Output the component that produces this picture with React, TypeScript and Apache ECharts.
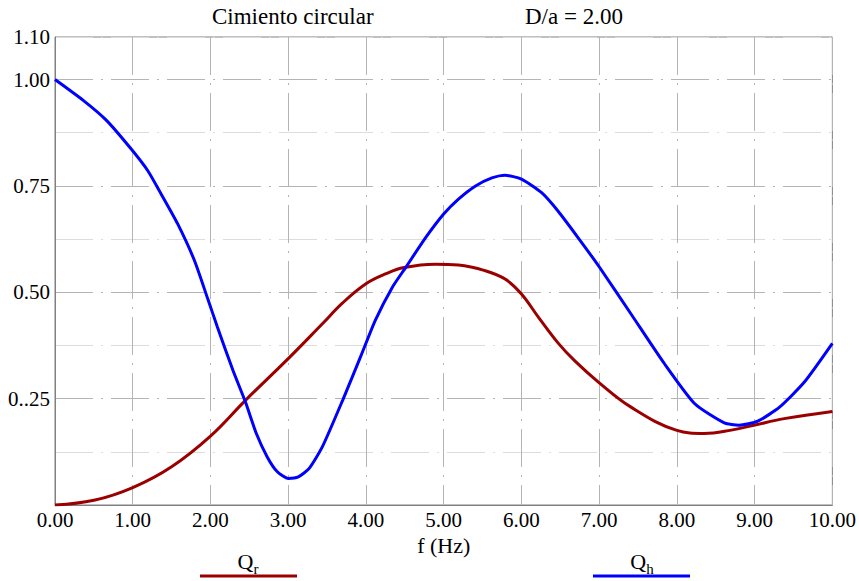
import React, { useEffect, useRef } from "react";
import * as echarts from "echarts";

const titleLeft = "Cimiento circular";
const titleRight = "D/a = 2.00";
const xAxisName = "f (Hz)";
const yLabelValues = [0.25, 0.5, 0.75, 1.0, 1.1];
const yLabelTexts = ["0..25", "0.50", "0.75", "1.00", "1.10"];

const qhFreq = [0, 0.363, 0.662, 0.983, 1.196, 1.368, 1.58, 1.795, 1.966, 2.09, 2.29, 2.45, 2.59, 2.73, 2.86, 3.0, 3.13, 3.27, 3.44, 3.7, 3.93, 4.12, 4.34, 4.51, 4.77, 5.0, 5.19, 5.41, 5.62, 5.79, 6.0, 6.26, 6.47, 6.73, 7.0, 7.41, 7.84, 8.23, 8.61, 8.8, 9.04, 9.32, 9.64, 10.0];
const qhValues = [1.0, 0.951, 0.904, 0.836, 0.785, 0.73, 0.66, 0.574, 0.484, 0.418, 0.316, 0.242, 0.168, 0.113, 0.078, 0.0625, 0.066, 0.086, 0.137, 0.246, 0.348, 0.434, 0.512, 0.558, 0.629, 0.684, 0.719, 0.75, 0.769, 0.775, 0.766, 0.734, 0.691, 0.628, 0.56, 0.449, 0.332, 0.238, 0.193, 0.1875, 0.197, 0.23, 0.289, 0.38];

const qrFreq = [0, 0.5, 1.0, 1.5, 2.0, 2.45, 3.0, 3.44, 3.7, 4.0, 4.25, 4.49, 4.89, 5.19, 5.53, 5.79, 6.0, 6.22, 6.47, 6.69, 6.99, 7.41, 7.99, 8.35, 8.7, 8.99, 9.38, 10.0];
const qrValues = [0.0, 0.011, 0.041, 0.09, 0.162, 0.246, 0.344, 0.426, 0.475, 0.52, 0.543, 0.558, 0.566, 0.564, 0.551, 0.531, 0.496, 0.441, 0.381, 0.338, 0.289, 0.23, 0.176, 0.168, 0.176, 0.1875, 0.203, 0.22];

const FONT = "'Liberation Serif', 'DejaVu Serif', serif";
const BLUE = "#0000ff";
const RED = "#9b0000";

export default function App() {
  const ref = useRef<HTMLDivElement>(null);
  useEffect(() => {
    if (!ref.current) return;
    const chart = echarts.init(ref.current, null, { renderer: "svg" });
    const gridDash = [38, 8, 2, 8];
    const richLegend = {
      q: { fontFamily: FONT, fontSize: 22, fill: "#000", color: "#000", verticalAlign: "bottom", padding: [0, 0, 4, 0] },
      s: { fontFamily: FONT, fontSize: 15, fill: "#000", color: "#000", verticalAlign: "bottom" },
    };
    chart.setOption({
      animation: false,
      backgroundColor: "#ffffff",
      grid: {
        left: 55,
        right: 24,
        top: 37,
        bottom: 76,
        show: true,
        borderColor: "#808080",
        borderWidth: 1,
        backgroundColor: "transparent",
      },
      xAxis: {
        type: "value",
        min: 0,
        max: 10,
        interval: 1,
        name: xAxisName,
        nameLocation: "middle",
        nameGap: 25,
        nameTextStyle: { fontFamily: FONT, fontSize: 22, color: "#000" },
        axisLine: { lineStyle: { color: "#808080", width: 1 } },
        axisTick: { show: false },
        axisLabel: {
          fontFamily: FONT,
          fontSize: 21,
          color: "#000",
          margin: 4,
          formatter: (v: number) => v.toFixed(2),
        },
        splitLine: {
          show: true,
          lineStyle: { color: "#b4b4b4", width: 1, type: gridDash },
        },
      },
      yAxis: [
        {
          type: "value",
          min: 0,
          max: 1.1,
          interval: 0.125,
          axisLine: { show: true, lineStyle: { color: "#808080", width: 1 } },
          axisTick: { show: false },
          axisLabel: { show: false },
          splitLine: {
            show: true,
            lineStyle: { color: ["#b4b4b4", "#dcdcdc"], width: 1, type: gridDash },
          },
        },
        {
          type: "value",
          position: "left",
          min: 0,
          max: 1.1,
          interval: 0.05,
          axisLine: { show: false },
          axisTick: { show: false },
          splitLine: { show: false },
          axisLabel: {
            fontFamily: FONT,
            fontSize: 21,
            color: "#000",
            margin: 5,
            showMaxLabel: true,
            formatter: (v: number) => {
              for (let i = 0; i < yLabelValues.length; i++) {
                if (Math.abs(v - yLabelValues[i]) < 1e-6) return yLabelTexts[i];
              }
              return "";
            },
          },
        },
      ],
      series: [
        {
          name: "Qr",
          type: "line",
          yAxisIndex: 0,
          data: qrFreq.map((f, i) => [f, qrValues[i]]),
          showSymbol: false,
          smooth: 0.4,
          lineStyle: { color: RED, width: 3 },
          z: 3,
        },
        {
          name: "Qh",
          type: "line",
          yAxisIndex: 0,
          data: qhFreq.map((f, i) => [f, qhValues[i]]),
          showSymbol: false,
          smooth: 0.2,
          lineStyle: { color: BLUE, width: 3 },
          z: 4,
        },
      ],
      graphic: [
        {
          type: "text",
          left: 212,
          top: 5,
          style: { text: titleLeft, fontFamily: FONT, fontSize: 23, fill: "#000" },
        },
        {
          type: "text",
          left: 525,
          top: 5,
          style: { text: titleRight, fontFamily: FONT, fontSize: 23, fill: "#000" },
        },
        {
          type: "text",
          x: 248,
          y: 563,
          style: { text: "{q|Q}{s|r}", fill: "#000", align: "center", verticalAlign: "middle", rich: richLegend },
        },
        {
          type: "line",
          shape: { x1: 200, y1: 576, x2: 297, y2: 576 },
          style: { stroke: RED, lineWidth: 3 },
        },
        {
          type: "text",
          x: 642,
          y: 563,
          style: { text: "{q|Q}{s|h}", fill: "#000", align: "center", verticalAlign: "middle", rich: richLegend },
        },
        {
          type: "line",
          shape: { x1: 593, y1: 576, x2: 690, y2: 576 },
          style: { stroke: BLUE, lineWidth: 3 },
        },
      ],
    });
    return () => chart.dispose();
  }, []);
  return (
    <div
      ref={ref}
      style={{ position: "fixed", left: 0, top: 0, width: 859, height: 581, background: "#fff" }}
    />
  );
}
